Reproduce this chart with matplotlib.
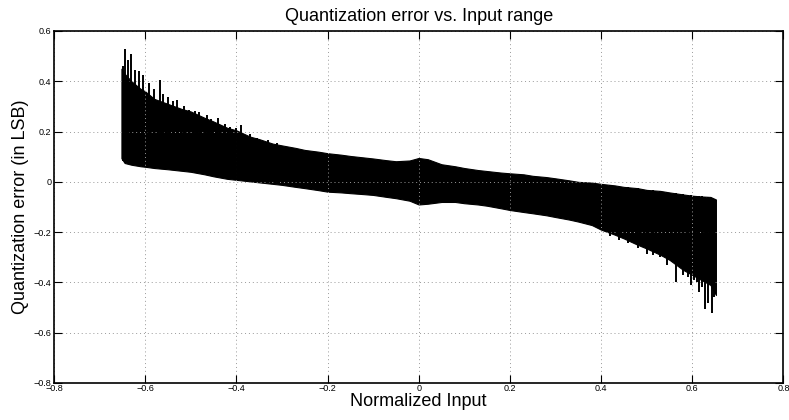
import numpy as np
import matplotlib
matplotlib.use("Agg")
import matplotlib.pyplot as plt

plt.rcParams['font.family'] = ['Liberation Sans', 'DejaVu Sans']

# Envelope of the dense quantization-error trace
env_x = [-0.652, -0.645, -0.63, -0.61, -0.60, -0.58, -0.55, -0.52, -0.50, -0.47,
         -0.45, -0.42, -0.40, -0.37, -0.35, -0.32, -0.30, -0.27, -0.25, -0.22,
         -0.20, -0.17, -0.15, -0.12, -0.10, -0.07, -0.05, -0.02, 0.00, 0.02,
         0.05, 0.08, 0.10, 0.13, 0.15, 0.18, 0.20, 0.23, 0.25, 0.28,
         0.30, 0.33, 0.35, 0.38, 0.40, 0.43, 0.45, 0.48, 0.50, 0.53,
         0.55, 0.58, 0.60, 0.62, 0.64, 0.652]
upper = [0.45, 0.43, 0.40, 0.37, 0.36, 0.33, 0.31, 0.29, 0.28, 0.255,
         0.24, 0.215, 0.205, 0.18, 0.17, 0.152, 0.145, 0.135, 0.127, 0.12,
         0.114, 0.108, 0.103, 0.097, 0.093, 0.086, 0.082, 0.085, 0.095, 0.09,
         0.07, 0.062, 0.055, 0.047, 0.043, 0.037, 0.034, 0.03, 0.024, 0.019,
         0.014, 0.006, 0.0, -0.003, -0.008, -0.014, -0.02, -0.025, -0.032, -0.036,
         -0.042, -0.05, -0.055, -0.058, -0.06, -0.07]
lower = [0.094, 0.075, 0.068, 0.062, 0.06, 0.055, 0.05, 0.044, 0.04, 0.03,
         0.022, 0.012, 0.008, 0.002, -0.002, -0.008, -0.012, -0.02, -0.025, -0.033,
         -0.039, -0.042, -0.045, -0.049, -0.052, -0.06, -0.065, -0.075, -0.09, -0.087,
         -0.08, -0.08, -0.085, -0.09, -0.095, -0.105, -0.112, -0.12, -0.125, -0.133,
         -0.14, -0.15, -0.158, -0.172, -0.19, -0.21, -0.225, -0.25, -0.265, -0.29,
         -0.31, -0.35, -0.37, -0.39, -0.41, -0.45]

# Isolated spikes above the band (left side)
top_spike_x = [-0.648, -0.644, -0.637, -0.630, -0.622, -0.613, -0.604, -0.591,
               -0.58, -0.568, -0.56, -0.549, -0.54, -0.531, -0.515, -0.503,
               -0.49, -0.481, -0.465, -0.455, -0.44, -0.425, -0.414, -0.40,
               -0.39, -0.37, -0.355, -0.33, -0.31]
top_spike_y = [0.46, 0.527, 0.485, 0.509, 0.445, 0.442, 0.425, 0.392,
               0.37, 0.405, 0.35, 0.339, 0.32, 0.326, 0.30, 0.286,
               0.28, 0.279, 0.266, 0.25, 0.255, 0.23, 0.22, 0.215,
               0.225, 0.19, 0.173, 0.165, 0.155]

# Isolated spikes below the band (right side)
bot_spike_x = [0.42, 0.44, 0.46, 0.48, 0.50, 0.515, 0.53, 0.545, 0.565, 0.58,
               0.59, 0.597, 0.605, 0.61, 0.615, 0.622, 0.628, 0.635, 0.643, 0.648]
bot_spike_y = [-0.215, -0.23, -0.245, -0.265, -0.285, -0.29, -0.30, -0.33, -0.397, -0.37,
               -0.38, -0.41, -0.39, -0.40, -0.437, -0.42, -0.506, -0.483, -0.523, -0.457]

xticks = [-0.8, -0.6, -0.4, -0.2, 0, 0.2, 0.4, 0.6, 0.8]
yticks = [-0.8, -0.6, -0.4, -0.2, 0, 0.2, 0.4, 0.6]

fig = plt.figure(figsize=(7.89, 4.2), dpi=100)
ax = fig.add_axes([0.0684, 0.0881, 0.9245, 0.8381])

ax.fill_between(env_x, lower, upper, color='black', linewidth=0.8, edgecolor='black')
ax.vlines(top_spike_x, np.interp(top_spike_x, env_x, lower), top_spike_y,
          color='black', linewidth=1.4)
ax.vlines(bot_spike_x, bot_spike_y, np.interp(bot_spike_x, env_x, upper),
          color='black', linewidth=1.4)

ax.set_xlim(-0.8, 0.8)
ax.set_ylim(-0.8, 0.6)
ax.set_xticks(xticks)
ax.set_yticks(yticks)
ax.set_xticklabels([f"{t:g}".replace('-', '\u2212') for t in xticks])
ax.set_yticklabels([f"{t:g}".replace('-', '\u2212') for t in yticks])
ax.tick_params(direction='in', length=5.5, width=0.8, labelsize=6.5,
               top=True, right=True, pad=2)
ax.tick_params(axis='x', pad=1)
ax.grid(True, linestyle=(0, (1, 3)), color='#999999', linewidth=0.7)
for s in ax.spines.values():
    s.set_linewidth(1.2)

ax.set_title('Quantization error vs. Input range', fontsize=13, pad=7.5)
ax.set_xlabel('Normalized Input', fontsize=13, labelpad=0)
ax.set_ylabel('Quantization error (in LSB)', fontsize=13, labelpad=3)

fig.savefig('out.png', dpi=100)
